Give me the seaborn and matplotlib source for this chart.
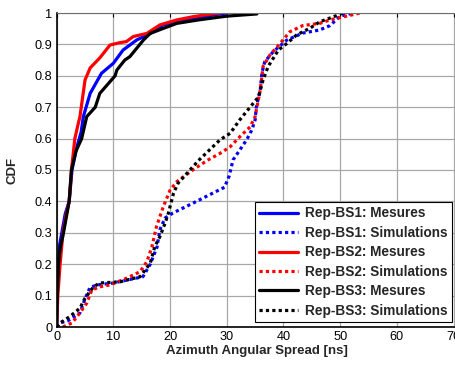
import numpy as np
import pandas as pd
import matplotlib
matplotlib.use("Agg")
import matplotlib.pyplot as plt
import seaborn as sns

# ---- data ----
bs1_mes_x = [0, 0.1, 0.3, 0.5, 0.9, 1.5, 2.2, 2.7, 3.5, 4.3, 4.7, 5.9, 7.9, 10.0, 11.7, 14.1, 16.5, 18.8, 21, 25, 28, 30]
bs1_mes_y = [0, 0.1, 0.2, 0.26, 0.3, 0.36, 0.4, 0.5, 0.57, 0.62, 0.67, 0.744, 0.808, 0.84, 0.882, 0.914, 0.935, 0.962, 0.972, 0.985, 0.995, 1.0]

bs2_mes_x = [0, 0.2, 0.6, 1.1, 1.7, 2.2, 2.6, 3.2, 3.7, 4.1, 5.0, 5.9, 7.6, 9.4, 11.0, 12.3, 13.5, 15.9, 18.2, 21.2, 24, 26.5, 28.8]
bs2_mes_y = [0, 0.1, 0.2, 0.3, 0.36, 0.4, 0.5, 0.6, 0.64, 0.67, 0.787, 0.825, 0.857, 0.898, 0.905, 0.909, 0.925, 0.935, 0.962, 0.978, 0.988, 0.995, 1.0]

bs3_mes_x = [0, 0.1, 0.3, 0.6, 1.2, 1.8, 2.2, 2.6, 3.4, 4.4, 5.3, 6.8, 7.6, 10.3, 10.6, 12.0, 12.9, 15.3, 16.5, 18.8, 21.2, 25, 30, 35.3]
bs3_mes_y = [0, 0.1, 0.2, 0.25, 0.3, 0.36, 0.4, 0.5, 0.56, 0.6, 0.67, 0.7, 0.744, 0.8, 0.818, 0.85, 0.861, 0.914, 0.935, 0.951, 0.967, 0.978, 0.99, 0.997]

bs1_sim_x = [0, 0.6, 2.0, 4.1, 5.0, 5.9, 7.6, 10, 12.5, 15.2, 16.5, 17.7, 18.2, 19.1, 20.5, 24.1, 27.6, 29.6, 30.4, 31.1, 32.3, 33.5, 34.4, 35.0, 35.2, 35.9, 36.2, 36.7, 38.2, 40.6, 43.4, 46.4, 48.2, 50.0, 52.3]
bs1_sim_y = [0, 0.013, 0.02, 0.045, 0.09, 0.127, 0.135, 0.14, 0.15, 0.16, 0.2, 0.255, 0.31, 0.347, 0.363, 0.395, 0.427, 0.445, 0.48, 0.532, 0.564, 0.596, 0.627, 0.66, 0.70, 0.755, 0.81, 0.845, 0.877, 0.914, 0.936, 0.946, 0.96, 0.99, 1.0]

bs2_sim_x = [1.1, 2.7, 4.1, 5.3, 6.2, 7.6, 9.4, 12.3, 14.7, 15.9, 16.8, 17.6, 18.8, 20.0, 21.2, 24.0, 26.5, 28.8, 30.6, 32.3, 34.1, 35.0, 35.2, 35.9, 36.4, 37.6, 39.4, 41.1, 43.4, 46.4, 48.2, 51.1, 53.5]
bs2_sim_y = [0, 0.013, 0.045, 0.076, 0.118, 0.128, 0.134, 0.155, 0.176, 0.208, 0.256, 0.32, 0.383, 0.436, 0.463, 0.50, 0.53, 0.553, 0.574, 0.606, 0.637, 0.67, 0.69, 0.755, 0.83, 0.866, 0.903, 0.94, 0.96, 0.967, 0.978, 0.99, 1.0]

bs3_sim_x = [0, 0.6, 2.3, 4.1, 5.0, 6.5, 7.6, 11.2, 14.7, 16.5, 17.3, 18.2, 19.1, 19.7, 20.6, 21.4, 25, 28.8, 30.6, 32.3, 34.1, 35.6, 36.4, 37.3, 39.1, 40.6, 42.3, 44.7, 46.4, 48.8, 50.5]
bs3_sim_y = [0, 0.013, 0.033, 0.06, 0.092, 0.128, 0.14, 0.144, 0.16, 0.203, 0.256, 0.288, 0.33, 0.363, 0.426, 0.458, 0.53, 0.596, 0.617, 0.66, 0.70, 0.733, 0.787, 0.83, 0.882, 0.903, 0.93, 0.952, 0.972, 0.988, 1.0]

series_labels = ["Rep-BS1: Mesures", "Rep-BS1: Simulations",
                 "Rep-BS2: Mesures", "Rep-BS2: Simulations",
                 "Rep-BS3: Mesures", "Rep-BS3: Simulations"]
x_ticks = [0, 10, 20, 30, 40, 50, 60, 70]
y_ticks = [0, 0.1, 0.2, 0.3, 0.4, 0.5, 0.6, 0.7, 0.8, 0.9, 1]
y_tick_labels = ["0", "0.1", "0.2", "0.3", "0.4", "0.5", "0.6", "0.7", "0.8", "0.9", "1"]

# ---- style ----
sns.set_style("white")
plt.rcParams['font.family'] = ['Liberation Sans', 'DejaVu Sans']

fig = plt.figure(figsize=(4.56, 3.65), dpi=100)
W, H = 456.0, 365.0
x0_px, px_per_unit = 56.7, 5.67
top_px, bot_px = 13.0, 327.0
right_px = 458.0
ax = fig.add_axes([x0_px / W, (H - bot_px) / H, (right_px - x0_px) / W, (bot_px - top_px) / H])

data = [
    (bs1_mes_x, bs1_mes_y, "#0000ff", "-"),
    (bs1_sim_x, bs1_sim_y, "#0000ff", (0, (1, 1))),
    (bs2_mes_x, bs2_mes_y, "#ff0000", "-"),
    (bs2_sim_x, bs2_sim_y, "#ff0000", (0, (1, 1))),
    (bs3_mes_x, bs3_mes_y, "#000000", "-"),
    (bs3_sim_x, bs3_sim_y, "#000000", (0, (1, 1))),
]
for (xs, ys, c, ls), lab in zip(data, series_labels):
    df = pd.DataFrame({"x": xs, "y": ys})
    sns.lineplot(data=df, x="x", y="y", sort=False, estimator=None, ax=ax,
                 color=c, linestyle=ls, linewidth=2.3, label=lab)

ax.set_xlim(0, (right_px - x0_px) / px_per_unit)
ax.set_ylim(0, 1)
ax.set_xticks(x_ticks)
ax.set_yticks(y_ticks)
ax.set_yticklabels(y_tick_labels)
ax.grid(True, color="#a8a8a8", linewidth=0.9)
ax.set_axisbelow(True)
ax.tick_params(direction="in", length=3, width=0.8, labelsize=9.2, pad=3,
               top=True, right=False, colors="black")
ax.set_xlabel("Azimuth Angular Spread [ns]", fontsize=9.5, fontweight="bold", labelpad=1)
ax.set_ylabel("CDF", fontsize=9.5, fontweight="bold", labelpad=12)
for s in ["left", "bottom"]:
    ax.spines[s].set_color("black")
    ax.spines[s].set_linewidth(1.2)
ax.spines["top"].set_color("#707070")
ax.spines["top"].set_linewidth(0.8)
ax.spines["right"].set_visible(False)

leg = ax.legend(loc="lower right", bbox_to_anchor=(451.7 / W, (H - 321.7) / H),
                bbox_transform=fig.transFigure, borderaxespad=0,
                prop={"weight": "bold", "size": 9.8}, frameon=True, fancybox=False,
                framealpha=1, edgecolor="black", handlelength=2.9, labelspacing=0.4,
                handletextpad=0.5, borderpad=0.3)
leg.get_frame().set_linewidth(0.8)

fig.savefig("out.png", dpi=100)
